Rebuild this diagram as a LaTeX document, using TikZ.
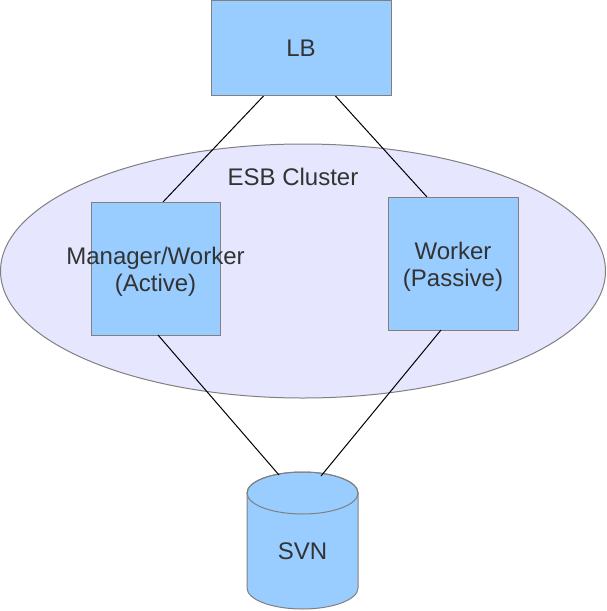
\documentclass[tikz,border=0pt]{standalone}
\usepackage{fontspec}
\setmainfont{Liberation Sans}
\usetikzlibrary{shapes.geometric,backgrounds}
\definecolor{boxfill}{RGB}{153,204,255}
\definecolor{clusterfill}{RGB}{230,230,255}
\definecolor{edgegray}{RGB}{128,128,128}
\definecolor{txt}{RGB}{51,51,51}
\begin{document}
\begin{tikzpicture}[x=1pt,y=-1pt,
  every node/.style={font=\fontsize{24}{27}\selectfont, text=txt, align=center, inner sep=0pt, outer sep=0pt},
  bluebox/.style={draw=edgegray, fill=boxfill, line width=1pt},
  clustershape/.style={ellipse, draw=edgegray, fill=clusterfill, line width=1pt},
  link/.style={draw=black, line width=1pt}]
\useasboundingbox (0,0) rectangle (606,611);
% LB box
\node[bluebox, minimum width=180pt, minimum height=95pt] (lb) at (301,48) {};
\node (lbtext) at (301,48) {LB};
% boxes
\node[bluebox, minimum width=129pt, minimum height=133pt] (mgr) at (155.5,268.5) {};
\node[bluebox, minimum width=130pt, minimum height=133pt] (wrk) at (453,263.5) {};
\node (mgrtext) at (155.5,272) {Manager/Worker\\(Active)};
\node (wrktext) at (453,267) {Worker\\(Passive)};
\begin{scope}[on background layer]
% cluster ellipse
\node[clustershape, minimum width=605pt, minimum height=254pt] (esb) at (303,271) {};
\node (esblabel) at (293,177) {ESB Cluster};
% connectors LB -> workers
\draw[link] ([xshift=-37pt]lb.south) -- ([xshift=7.5pt]mgr.north);
\draw[link] ([xshift=34pt]lb.south) -- ([xshift=-26pt]wrk.north);
\end{scope}
% SVN cylinder
\filldraw[fill=boxfill, draw=edgegray, line width=1pt]
  (247,493) -- (247,588) arc[start angle=180, end angle=0, x radius=55.5, y radius=21]
  -- (358,493) arc[start angle=0, end angle=-180, x radius=55.5, y radius=21] -- cycle;
\draw[edgegray, line width=1pt] (302.5,493) ellipse[x radius=55.5, y radius=21];
\node (svn) at (302.5,551) {SVN};
\coordinate (svnL) at (279,475);
\coordinate (svnR) at (321,476);
\draw[link] ([xshift=2.5pt]mgr.south) -- (svnL);
\draw[link] ([xshift=-12pt]wrk.south) -- (svnR);
\end{tikzpicture}
\end{document}
